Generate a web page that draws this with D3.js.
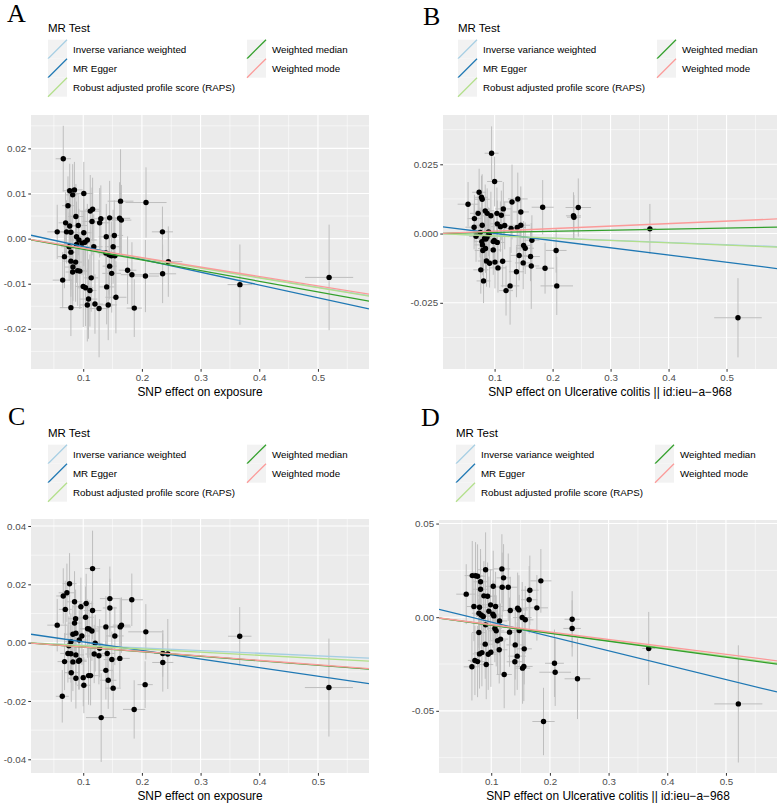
<!DOCTYPE html>
<html><head><meta charset="utf-8">
<script src="https://cdn.jsdelivr.net/npm/d3@7"></script>
<style>body{margin:0;background:#fff}svg{display:block}</style>
</head><body>
<svg id="chart" width="778" height="804"></svg>
<script>
// ---------- data ----------
const methods = ["Inverse variance weighted","MR Egger","Robust adjusted profile score (RAPS)","Weighted median","Weighted mode"];
const methodColors = ["#a6cee3","#1f78b4","#b2df8a","#33a02c","#fb9a99"];
const panelLabels = ["A","B","C","D"];
const xTitles = ["SNP effect on exposure","SNP effect on Ulcerative colitis || id:ieu\u2212a\u2212968","SNP effect on exposure","SNP effect on Ulcerative colitis || id:ieu\u2212a\u2212968"];
const xTicks = [0.1,0.2,0.3,0.4,0.5];
const xTickLabels = ["0.1","0.2","0.3","0.4","0.5"];
const xMinor = [0.05,0.15,0.25,0.35,0.45,0.55];
const yTicksA = [-0.02,-0.01,0,0.01,0.02], yLabelsA = ["-0.02","-0.01","0.00","0.01","0.02"], yMinorA = [-0.025,-0.015,-0.005,0.005,0.015,0.025];
const yTicksB = [-0.025,0,0.025], yLabelsB = ["-0.025","0.000","0.025"], yMinorB = [-0.0375,-0.0125,0.0125,0.0375];
const yTicksC = [-0.04,-0.02,0,0.02,0.04], yLabelsC = ["-0.04","-0.02","0.00","0.02","0.04"], yMinorC = [-0.03,-0.01,0.01,0.03];
const yTicksD = [-0.05,0,0.05], yLabelsD = ["-0.05","0.00","0.05"], yMinorD = [-0.075,-0.025,0.025];
const xDomain = [0.011, 0.587];
const yDomainA = [-0.0289, 0.0274], yDomainB = [-0.0489, 0.0428], yDomainC = [-0.0447, 0.0424], yDomainD = [-0.0832, 0.0519];
// slopes: IVW, Egger, RAPS, Weighted median, Weighted mode ; Egger intercept separately
const slopesA = [-0.0215,-0.02833,-0.02175,-0.02363,-0.0210], eggerIntA = 0.00106;
const slopesB = [-0.0080,-0.02613,-0.00835,0.00393,0.0090], eggerIntB = 0.0027;
const slopesC = [-0.0091,-0.02937,-0.01085,-0.01552,-0.0152], eggerIntC = 0.0032;
const slopesD = [-0.0420,-0.07666,-0.0418,-0.0427,-0.0397], eggerIntD = 0.00506;
// points: [beta.exposure, beta.outcome, se.exposure, se.outcome]
const pointsA = [
[0.066,0.0177,0.013,0.0073],[0.077,0.0106,0.012,0.0060],[0.085,0.0108,0.014,0.0062],[0.082,0.0097,0.011,0.0068],
[0.101,0.0100,0.016,0.0070],[0.074,0.0073,0.010,0.0065],[0.0875,0.0049,0.013,0.0072],[0.070,0.0035,0.012,0.0068],
[0.077,0.0028,0.011,0.0075],[0.0915,0.0029,0.015,0.0066],[0.0557,0.0015,0.017,0.0060],[0.0716,0.0015,0.012,0.0070],
[0.079,0.0014,0.014,0.0080],[0.101,0.0013,0.013,0.0074],[0.0886,0.0004,0.010,0.0078],[0.0926,-0.0003,0.015,0.0069],
[0.098,-0.0010,0.012,0.0071],[0.107,-0.0003,0.016,0.0080],[0.103,-0.0008,0.011,0.0072],[0.0886,-0.0013,0.013,0.0085],
[0.076,-0.0018,0.014,0.0076],[0.079,-0.0030,0.010,0.0083],[0.068,-0.0040,0.012,0.0070],[0.079,-0.0050,0.013,0.0079],
[0.087,-0.0052,0.011,0.0088],[0.0825,-0.0063,0.014,0.0075],[0.082,-0.0074,0.012,0.0080],[0.0905,-0.0071,0.013,0.0078],
[0.0943,-0.0072,0.016,0.0084],[0.065,-0.0092,0.017,0.0062],[0.100,-0.0106,0.014,0.0090],[0.104,-0.0109,0.013,0.0085],
[0.1114,-0.0115,0.011,0.0080],[0.109,-0.0134,0.015,0.0088],[0.107,-0.0147,0.013,0.0081],[0.079,-0.0153,0.019,0.0063],
[0.120,-0.0145,0.014,0.0066],[0.127,-0.0155,0.016,0.0108],[0.1136,-0.0087,0.012,0.0075],[0.118,-0.0018,0.015,0.0072],
[0.115,0.0038,0.016,0.0075],[0.112,0.0061,0.018,0.0080],[0.116,0.0065,0.012,0.0070],[0.128,0.0035,0.017,0.0077],
[0.130,0.0044,0.015,0.0074],[0.145,0.0046,0.020,0.0082],[0.1386,-0.0032,0.014,0.0079],[0.144,-0.0036,0.016,0.0088],
[0.148,-0.0038,0.013,0.0076],[0.154,-0.0038,0.017,0.0084],[0.1393,0.0004,0.013,0.0073],[0.153,0.0007,0.015,0.0078],
[0.151,-0.0018,0.014,0.0082],[0.145,-0.0061,0.012,0.0074],[0.1485,-0.0077,0.016,0.0087],[0.140,-0.0107,0.013,0.0083],
[0.1426,-0.0147,0.015,0.0078],[0.1557,-0.0130,0.018,0.0080],[0.1636,0.0083,0.022,0.0115],[0.162,0.0045,0.018,0.0080],
[0.165,0.0041,0.017,0.0078],[0.1756,-0.0070,0.015,0.0075],[0.183,-0.0080,0.019,0.0072],[0.187,-0.0154,0.013,0.0064],
[0.207,0.0080,0.035,0.0078],[0.206,-0.0083,0.023,0.0080],[0.235,0.0015,0.018,0.0056],[0.2353,-0.0078,0.023,0.0065],
[0.245,-0.0051,0.024,0.0078],[0.367,-0.0102,0.021,0.0089],[0.519,-0.0086,0.041,0.0117]];
const pointsB = [
[0.0948,0.0290,0.012,0.0097],[0.100,0.0188,0.013,0.0090],[0.0733,0.0149,0.012,0.0085],[0.0542,0.0106,0.018,0.0080],
[0.0774,0.0131,0.011,0.0078],[0.0786,0.0124,0.013,0.0090],[0.0716,0.0073,0.014,0.0082],[0.0652,0.0054,0.012,0.0086],
[0.0646,0.0023,0.015,0.0080],[0.068,-0.0010,0.012,0.0092],[0.0786,0.0030,0.013,0.0088],[0.0838,0.0082,0.016,0.0095],
[0.0872,0.0073,0.012,0.0090],[0.0936,0.0064,0.014,0.0087],[0.104,0.0073,0.013,0.0093],[0.1116,0.0066,0.015,0.0089],
[0.115,0.0089,0.014,0.0097],[0.1046,0.0035,0.012,0.0084],[0.110,0.0025,0.016,0.0091],[0.1174,0.0029,0.013,0.0086],
[0.130,0.0114,0.015,0.0135],[0.140,0.0125,0.017,0.0095],[0.1452,0.0078,0.014,0.0092],[0.1452,0.0030,0.016,0.0094],
[0.1284,0.0018,0.013,0.0088],[0.139,0.0022,0.015,0.0090],[0.078,-0.0029,0.012,0.0095],[0.0791,-0.0041,0.014,0.0089],
[0.0826,-0.0018,0.011,0.0092],[0.085,-0.0020,0.013,0.0087],[0.087,-0.0012,0.015,0.0091],[0.0907,-0.0002,0.012,0.0094],
[0.0843,-0.0054,0.013,0.0088],[0.0797,-0.0061,0.014,0.0090],[0.0762,-0.0131,0.013,0.0086],[0.0809,-0.0171,0.012,0.0080],
[0.086,-0.0099,0.015,0.0093],[0.0913,-0.0107,0.013,0.0088],[0.0977,-0.0059,0.014,0.0090],[0.0994,-0.0025,0.012,0.0087],
[0.1006,-0.0103,0.016,0.0095],[0.1046,-0.0032,0.013,0.0092],[0.1058,-0.0124,0.014,0.0089],[0.1139,-0.0100,0.015,0.0094],
[0.1197,-0.0206,0.012,0.0090],[0.1267,-0.0189,0.016,0.0140],[0.1377,-0.0138,0.013,0.0092],[0.1423,-0.0079,0.015,0.0090],
[0.1493,-0.0106,0.014,0.0095],[0.150,-0.0043,0.013,0.0088],[0.1528,-0.0053,0.015,0.0093],[0.162,-0.0083,0.016,0.0089],
[0.1632,-0.0117,0.014,0.0155],[0.1643,-0.0024,0.013,0.0090],[0.1829,0.0095,0.019,0.0098],[0.187,-0.0125,0.016,0.0092],
[0.2061,-0.0061,0.018,0.0080],[0.2072,-0.0189,0.028,0.0105],[0.236,0.0064,0.013,0.0085],[0.2368,0.0059,0.012,0.0080],
[0.2443,0.0094,0.022,0.0105],[0.3678,0.0017,0.011,0.0090],[0.5197,-0.0304,0.041,0.0143],[0.075,0.0004,0.012,0.0090],
[0.0896,0.0006,0.014,0.0088],[0.0977,-0.0029,0.013,0.0092]];
const pointsC = [
[0.1159,0.0254,0.013,0.0130],[0.0767,0.0202,0.012,0.0105],[0.0722,0.0171,0.014,0.0100],[0.066,0.0160,0.012,0.0095],
[0.0694,0.0114,0.011,0.0098],[0.0852,0.0140,0.013,0.0105],[0.096,0.0123,0.014,0.0100],[0.105,0.0134,0.012,0.0102],
[0.1159,0.0110,0.015,0.0098],[0.1454,0.0151,0.017,0.0110],[0.1454,0.0119,0.012,0.0100],[0.1828,0.0147,0.019,0.0090],
[0.087,0.0082,0.013,0.0100],[0.0852,0.0067,0.012,0.0098],[0.104,0.0087,0.014,0.0105],[0.0557,0.0060,0.017,0.0090],
[0.1074,0.0048,0.013,0.0100],[0.110,0.0047,0.015,0.0098],[0.1148,0.0040,0.012,0.0102],[0.1386,0.0054,0.016,0.0105],
[0.163,0.0054,0.018,0.0100],[0.1652,0.0060,0.015,0.0095],[0.0824,0.0029,0.013,0.0100],[0.0875,0.0032,0.012,0.0104],
[0.0977,0.0023,0.014,0.0099],[0.0932,0.0009,0.013,0.0102],[0.079,0.0003,0.012,0.0098],[0.0756,-0.0011,0.014,0.0101],
[0.1539,0.0023,0.015,0.0100],[0.1204,-0.0002,0.013,0.0097],[0.2067,0.0037,0.030,0.0095],[0.3667,0.0022,0.020,0.0100],
[0.0739,-0.0037,0.013,0.0100],[0.079,-0.0038,0.012,0.0099],[0.0875,-0.0042,0.014,0.0102],[0.0682,-0.0065,0.012,0.0098],
[0.0824,-0.0066,0.013,0.0100],[0.092,-0.0064,0.014,0.0097],[0.0937,-0.0060,0.012,0.0101],[0.1187,-0.0039,0.015,0.0100],
[0.1267,-0.0045,0.014,0.0098],[0.1409,-0.0037,0.013,0.0102],[0.1624,-0.0054,0.017,0.0100],[0.1488,-0.0058,0.014,0.0096],
[0.0796,-0.0103,0.012,0.0100],[0.0875,-0.0122,0.013,0.0104],[0.100,-0.0120,0.014,0.0098],[0.1091,-0.0113,0.013,0.0100],
[0.1125,-0.0113,0.015,0.0102],[0.1386,-0.0095,0.012,0.0100],[0.1426,-0.0129,0.014,0.0098],[0.151,-0.0156,0.013,0.0100],
[0.1011,-0.0146,0.012,0.0096],[0.0643,-0.0184,0.011,0.0090],[0.2055,-0.0144,0.013,0.0080],[0.2356,-0.0037,0.015,0.0080],
[0.2441,-0.0039,0.014,0.0120],[0.2356,-0.0068,0.018,0.0100],[0.1868,-0.0229,0.019,0.0100],[0.1306,-0.0257,0.026,0.0152],
[0.5187,-0.0154,0.041,0.0168],[0.128,-0.0019,0.015,0.0100]];
const pointsD = [
[0.0904,0.0253,0.013,0.0200],[0.1182,0.0258,0.014,0.0185],[0.121,0.0210,0.012,0.0180],[0.0677,0.0222,0.013,0.0185],
[0.0733,0.0221,0.012,0.0180],[0.0767,0.0219,0.014,0.0170],[0.0574,0.0123,0.017,0.0160],[0.0818,0.0189,0.012,0.0175],
[0.0818,0.0149,0.013,0.0180],[0.1034,0.0165,0.014,0.0190],[0.1187,0.0160,0.015,0.0185],[0.129,0.0160,0.016,0.0180],
[0.1846,0.0194,0.018,0.0170],[0.1658,0.0144,0.015,0.0185],[0.1647,0.0093,0.014,0.0180],[0.0875,0.0114,0.012,0.0185],
[0.0938,0.0112,0.013,0.0180],[0.0705,0.0057,0.012,0.0185],[0.080,0.0053,0.013,0.0180],[0.0989,0.0066,0.015,0.0190],
[0.1074,0.0057,0.013,0.0185],[0.1324,0.0036,0.014,0.0180],[0.145,0.0048,0.016,0.0190],[0.1472,0.0039,0.015,0.0185],
[0.1778,0.0050,0.019,0.0175],[0.079,0.0021,0.012,0.0185],[0.083,0.0012,0.013,0.0180],[0.0864,0.0004,0.012,0.0190],
[0.096,0.0032,0.014,0.0185],[0.1028,0.0016,0.013,0.0180],[0.1045,0.0007,0.015,0.0185],[0.1528,-0.0002,0.016,0.0190],
[0.158,-0.0014,0.014,0.0180],[0.0904,-0.0041,0.013,0.0185],[0.1062,-0.0060,0.012,0.0180],[0.1085,-0.0073,0.014,0.0190],
[0.1142,-0.0020,0.013,0.0185],[0.079,-0.0082,0.012,0.0180],[0.1312,-0.0080,0.015,0.0185],[0.1477,-0.0071,0.014,0.0190],
[0.2379,-0.0011,0.013,0.0150],[0.2379,-0.0060,0.015,0.0150],[0.0898,-0.0144,0.013,0.0185],[0.1108,-0.0126,0.014,0.0180],
[0.1159,-0.0117,0.013,0.0190],[0.1409,-0.0148,0.015,0.0185],[0.1136,-0.0174,0.014,0.0180],[0.1562,-0.0169,0.013,0.0190],
[0.080,-0.0196,0.012,0.0185],[0.0841,-0.0189,0.013,0.0180],[0.0949,-0.0198,0.014,0.0190],[0.0994,-0.0187,0.012,0.0185],
[0.1443,-0.0208,0.015,0.0180],[0.0722,-0.0231,0.012,0.0185],[0.0767,-0.0237,0.013,0.0190],[0.0671,-0.0265,0.014,0.0180],
[0.0915,-0.0253,0.012,0.0185],[0.1403,-0.0238,0.014,0.0180],[0.1534,-0.0272,0.013,0.0190],[0.1556,-0.0263,0.015,0.0185],
[0.1221,-0.0306,0.013,0.0180],[0.2078,-0.0246,0.016,0.0180],[0.2090,-0.0294,0.027,0.0180],[0.247,-0.0329,0.022,0.0215],
[0.1891,-0.0557,0.019,0.0180],[0.3684,-0.0167,0.011,0.0195],[0.5211,-0.0463,0.041,0.0313]];

// ---------- layout ----------
const layouts = [
  {plot:{x:31,y:115,w:338,h:254}, legend:{x:48,y:28}, label:{x:7,y:22}},
  {plot:{x:443,y:115,w:334,h:254}, legend:{x:458,y:28}, label:{x:423,y:25}},
  {plot:{x:31,y:519,w:338,h:254}, legend:{x:48,y:433}, label:{x:8,y:425}},
  {plot:{x:439,y:520,w:338,h:253}, legend:{x:456,y:433}, label:{x:421,y:426}}
];
const panels = [
  {points:pointsA, slopes:slopesA, eggerInt:eggerIntA, yDomain:yDomainA, yTicks:yTicksA, yLabels:yLabelsA, yMinor:yMinorA},
  {points:pointsB, slopes:slopesB, eggerInt:eggerIntB, yDomain:yDomainB, yTicks:yTicksB, yLabels:yLabelsB, yMinor:yMinorB},
  {points:pointsC, slopes:slopesC, eggerInt:eggerIntC, yDomain:yDomainC, yTicks:yTicksC, yLabels:yLabelsC, yMinor:yMinorC},
  {points:pointsD, slopes:slopesD, eggerInt:eggerIntD, yDomain:yDomainD, yTicks:yTicksD, yLabels:yLabelsD, yMinor:yMinorD}
];

const svg = d3.select("#chart");
const sans = "'Liberation Sans', Arial, sans-serif";

panels.forEach((p, i) => {
  const L = layouts[i], P = L.plot;
  const g = svg.append("g");
  g.append("text").attr("x", L.label.x).attr("y", L.label.y)
    .attr("font-family", "'Liberation Serif', 'Times New Roman', serif").attr("font-size", 26)
    .attr("fill", "#000").text(panelLabels[i]);
  const lg = g.append("g").attr("transform", `translate(${L.legend.x},${L.legend.y})`);
  lg.append("text").attr("x", 0).attr("y", 4).attr("font-family", sans).attr("font-size", 11.5).attr("fill", "#000").text("MR Test");
  const keySize = 19;
  methods.forEach((m, k) => {
    const col = k < 3 ? 0 : 1, row = k < 3 ? k : k - 3;
    const kx = col * 199, ky = 11.7 + row * keySize;
    lg.append("rect").attr("x", kx).attr("y", ky).attr("width", keySize).attr("height", keySize).attr("fill", "#f2f2f2");
    lg.append("line").attr("x1", kx).attr("y1", ky + keySize).attr("x2", kx + keySize).attr("y2", ky)
      .attr("stroke", methodColors[k]).attr("stroke-width", 1.3);
    lg.append("text").attr("x", kx + keySize + 6).attr("y", ky + keySize / 2 + 3.5)
      .attr("font-family", sans).attr("font-size", 9.75).attr("fill", "#000").text(m);
  });

  const x = d3.scaleLinear().domain(xDomain).range([P.x, P.x + P.w]);
  const y = d3.scaleLinear().domain(p.yDomain).range([P.y + P.h, P.y]);

  g.append("rect").attr("x", P.x).attr("y", P.y).attr("width", P.w).attr("height", P.h).attr("fill", "#ebebeb");
  const grid = g.append("g").attr("stroke", "#fff");
  grid.selectAll(".xm").data(xMinor).join("line").attr("x1", d => x(d)).attr("x2", d => x(d))
    .attr("y1", P.y).attr("y2", P.y + P.h).attr("stroke-width", 0.55);
  grid.selectAll(".ym").data(p.yMinor).join("line").attr("y1", d => y(d)).attr("y2", d => y(d))
    .attr("x1", P.x).attr("x2", P.x + P.w).attr("stroke-width", 0.55);
  grid.selectAll(".xM").data(xTicks).join("line").attr("x1", d => x(d)).attr("x2", d => x(d))
    .attr("y1", P.y).attr("y2", P.y + P.h).attr("stroke-width", 1.1);
  grid.selectAll(".yM").data(p.yTicks).join("line").attr("y1", d => y(d)).attr("y2", d => y(d))
    .attr("x1", P.x).attr("x2", P.x + P.w).attr("stroke-width", 1.1);

  const clipId = "clip" + i;
  g.append("clipPath").attr("id", clipId).append("rect").attr("x", P.x).attr("y", P.y).attr("width", P.w).attr("height", P.h);
  const data = g.append("g").attr("clip-path", `url(#${clipId})`);
  data.selectAll(".ev").data(p.points).join("line")
    .attr("x1", d => x(d[0])).attr("x2", d => x(d[0]))
    .attr("y1", d => y(d[1] - d[3])).attr("y2", d => y(d[1] + d[3]))
    .attr("stroke", "#bebebe").attr("stroke-width", 1);
  data.selectAll(".eh").data(p.points).join("line")
    .attr("y1", d => y(d[1])).attr("y2", d => y(d[1]))
    .attr("x1", d => x(d[0] - d[2])).attr("x2", d => x(d[0] + d[2]))
    .attr("stroke", "#bebebe").attr("stroke-width", 1);
  data.selectAll(".pt").data(p.points).join("circle")
    .attr("cx", d => x(d[0])).attr("cy", d => y(d[1])).attr("r", 2.7).attr("fill", "#000");
  const lines = methods.map((m, k) => ({k, slope: p.slopes[k], int: k === 1 ? p.eggerInt : 0}));
  data.selectAll(".ab").data(lines).join("line")
    .attr("x1", x(xDomain[0])).attr("x2", x(xDomain[1]))
    .attr("y1", d => y(d.int + d.slope * xDomain[0])).attr("y2", d => y(d.int + d.slope * xDomain[1]))
    .attr("stroke", d => methodColors[d.k]).attr("stroke-width", 1.3);

  const xAxis = d3.axisBottom(x).tickValues(xTicks).tickFormat((d, j) => xTickLabels[j]).tickSize(2.75).tickPadding(2.2);
  const ax = g.append("g").attr("transform", `translate(0,${P.y + P.h})`).call(xAxis);
  const yAxis = d3.axisLeft(y).tickValues(p.yTicks).tickFormat((d, j) => p.yLabels[j]).tickSize(2.75).tickPadding(2.2);
  const ay = g.append("g").attr("transform", `translate(${P.x},0)`).call(yAxis);
  [ax, ay].forEach(a => {
    a.select(".domain").remove();
    a.selectAll(".tick line").attr("stroke", "#333333").attr("stroke-width", 1);
    a.selectAll(".tick text").attr("fill", "#4d4d4d").attr("font-family", sans).attr("font-size", 9.75);
  });
  g.append("text").attr("x", P.x + P.w / 2).attr("y", P.y + P.h + 26.5).attr("text-anchor", "middle")
    .attr("font-family", sans).attr("font-size", 11.9).attr("fill", "#000").text(xTitles[i]);
});
</script>
</body></html>
